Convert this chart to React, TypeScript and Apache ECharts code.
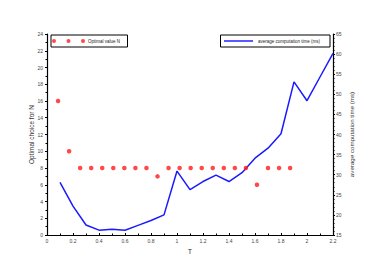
import React, { useEffect, useRef } from "react";
import * as echarts from "echarts";

const nT = [0.085, 0.17, 0.255, 0.34, 0.425, 0.51, 0.595, 0.68, 0.765, 0.85, 0.935, 1.02, 1.105, 1.19, 1.275, 1.36, 1.445, 1.53, 1.615, 1.7, 1.785, 1.87];
const nValues = [16, 10, 8, 8, 8, 8, 8, 8, 8, 7, 8, 8, 8, 8, 8, 8, 8, 8, 6, 8, 8, 8];
const timeT = [0.1, 0.2, 0.3, 0.4, 0.5, 0.6, 0.7, 0.8, 0.9, 1.0, 1.1, 1.2, 1.3, 1.4, 1.5, 1.6, 1.7, 1.8, 1.9, 2.0, 2.1, 2.2];
const timeValues = [28.1, 22.2, 17.5, 16.2, 16.4, 16.2, 17.4, 18.6, 20.0, 30.9, 26.3, 28.3, 29.9, 28.3, 30.5, 34.1, 36.6, 40.2, 53.1, 48.4, 54.3, 60.2];

const nName = "Optimal value N";
const tName = "average computation time (ms)";
const font = "'Liberation Sans', Arial, sans-serif";

export default function App() {
  const ref = useRef<HTMLDivElement>(null);
  useEffect(() => {
    if (!ref.current) return;
    const chart = echarts.init(ref.current, null, { renderer: "svg" });
    const tickLabel = { fontSize: 5, color: "#444", fontFamily: font };
    chart.setOption({
      animation: false,
      textStyle: { fontFamily: font },
      grid: { left: 47, right: 49, top: 34, bottom: 34 },
      graphic: [
        { type: "rect", shape: { x: 51, y: 35, width: 76.5, height: 12 }, style: { fill: "#fff", stroke: "#000", lineWidth: 1 }, z: 1 },
        { type: "rect", shape: { x: 220.5, y: 35, width: 109.5, height: 12 }, style: { fill: "#fff", stroke: "#000", lineWidth: 1 }, z: 1 },
      ],
      legend: [
        {
          data: [{ name: nName, icon: "path://M0,2a2,2 0 1,0 4,0a2,2 0 1,0 -4,0M14.5,2a2,2 0 1,0 4,0a2,2 0 1,0 -4,0M29,2a2,2 0 1,0 4,0a2,2 0 1,0 -4,0" }],
          left: 52, top: 38.5, padding: 0, itemWidth: 33, itemHeight: 4, itemGap: 0,
          textStyle: { fontSize: 4.5, color: "#222", padding: [0, 0, 0, -2] }, z: 5,
        },
        {
          data: [{ name: tName, icon: "path://M0,0L30,0L30,1.5L0,1.5Z" }],
          left: 224, top: 38.5, padding: 0, itemWidth: 29, itemHeight: 1.5, itemGap: 0,
          textStyle: { fontSize: 4.5, color: "#222" }, z: 5,
        },
      ],
      xAxis: {
        type: "value", min: 0, max: 2.2, interval: 0.2,
        name: "T", nameLocation: "middle", nameGap: 13, nameMoveOverlap: false,
        nameTextStyle: { fontSize: 7, color: "#333" },
        axisLine: { show: true, lineStyle: { color: "#000", width: 1.2 } },
        axisTick: { show: true, length: 2, inside: true, lineStyle: { color: "#000" } },
        minorTick: { show: true, splitNumber: 2, length: 1.5, lineStyle: { color: "#000" } },
        axisLabel: { ...tickLabel, margin: 3 },
        splitLine: { show: false },
      },
      yAxis: [
        {
          type: "value", min: 0, max: 24, interval: 2, position: "left",
          name: "Optimal choice for N", nameLocation: "middle", nameGap: 12, nameRotate: 90, nameMoveOverlap: false,
          nameTextStyle: { fontSize: 6.5, color: "#333" },
          axisLine: { show: true, lineStyle: { color: "#000", width: 1.2 } },
          axisTick: { show: true, length: 2, lineStyle: { color: "#000" } },
          minorTick: { show: true, splitNumber: 2, length: 1.5, lineStyle: { color: "#000" } },
          axisLabel: { ...tickLabel, margin: 4 },
          splitLine: { show: false },
        },
        {
          type: "value", min: 15, max: 65, interval: 5, position: "right",
          name: "average computation time (ms)", nameLocation: "middle", nameGap: 15.5, nameRotate: 90, nameMoveOverlap: false,
          nameTextStyle: { fontSize: 6.2, color: "#333" },
          axisLine: { show: true, lineStyle: { color: "#000", width: 1.2 } },
          axisTick: { show: true, length: 2, lineStyle: { color: "#000" } },
          minorTick: { show: true, splitNumber: 5, length: 1.5, lineStyle: { color: "#000" } },
          axisLabel: { ...tickLabel, margin: 3 },
          splitLine: { show: false },
        },
      ],
      series: [
        {
          name: nName, type: "scatter", yAxisIndex: 0,
          data: nT.map((t, i) => [t, nValues[i]]),
          symbol: "circle", symbolSize: 4.5,
          itemStyle: { color: "#ff1a1a" }, z: 3,
        },
        {
          name: tName, type: "line", yAxisIndex: 1,
          data: timeT.map((t, i) => [t, timeValues[i]]),
          showSymbol: false, symbol: "none",
          lineStyle: { color: "#1a1aff", width: 1.5 },
          itemStyle: { color: "#1a1aff" }, z: 2,
        },
      ],
    });
    return () => chart.dispose();
  }, []);
  return <div ref={ref} style={{ width: 382, height: 269, position: "absolute", left: 0, top: 0 }} />;
}
